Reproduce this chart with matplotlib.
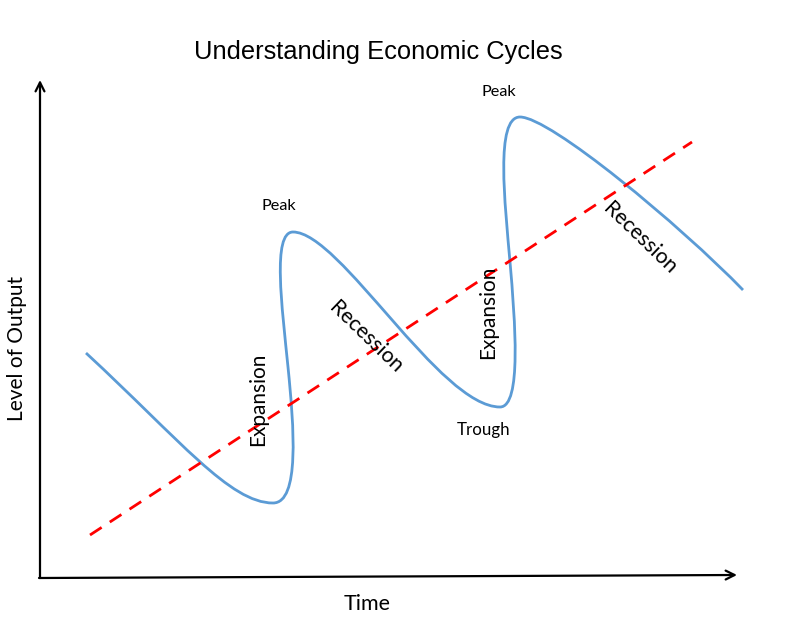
import matplotlib
matplotlib.use('Agg')
import matplotlib.pyplot as plt
from matplotlib.path import Path
from matplotlib.patches import PathPatch
import numpy as np

H = 621  # canvas height, output = H - pixel row

# business cycle path: anchor / control points (time, output) for cubic Bezier segments
cycle_time = [86, 180, 230, 273, 300, 294, 288, 282, 272, 293,
              340, 440, 500, 522, 515, 510, 505, 495, 520, 550, 680, 743]
cycle_output = [268, 181, 118, 118, 118, 194, 254, 314, 389, 389,
                389, 214, 214, 214, 301, 359, 417, 504, 504, 504, 396, 331]

# long-run trend line
trend_time = [90, 692]
trend_output = [86, 479]

# labels: (text, time, output, rotation, size)
labels = [
    ('Peak', 279, 415, 0, 11.7),
    ('Peak', 499, 529, 0, 11.7),
    ('Trough', 484, 191, 0, 12.2),
    ('Expansion', 258, 222, 90, 15),
    ('Expansion', 488, 309, 90, 15),
    ('Recession', 366, 284, -44, 15.3),
    ('Recession', 640, 383, -44, 15.3),
]

fig = plt.figure(figsize=(8, 6.21), dpi=100)
ax = fig.add_axes([0, 0, 1, 1])
ax.set_xlim(0, 800)
ax.set_ylim(0, H)
ax.axis('off')

verts = list(zip(cycle_time, cycle_output))
codes = [Path.MOVETO] + [Path.CURVE4] * (len(verts) - 1)
ax.add_patch(PathPatch(Path(verts, codes), facecolor='none',
                       edgecolor='#5B9BD5', lw=2.0, capstyle='butt'))

ax.plot(trend_time, trend_output, color='#FF0000', lw=2.0,
        dashes=(5, 3.5))

# axes with arrows
arrow = dict(arrowstyle='->', color='black', lw=1.6, mutation_scale=16,
             shrinkA=0, shrinkB=0)
ax.annotate('', xy=(40, H - 80), xytext=(40, H - 578), arrowprops=arrow)
ax.annotate('', xy=(737, H - 575), xytext=(39, H - 578), arrowprops=arrow)

ax.text(378, H - 52, 'Understanding Economic Cycles', ha='center', va='center',
        fontsize=18.4, family='Liberation Sans')
ax.text(367, H - 604, 'Time', ha='center', va='center', fontsize=15.5,
        family='Lato')
ax.text(17, H - 348, 'Level of Output', ha='center', va='center', rotation=90,
        fontsize=15, family='Lato')

for txt, x, y, rot, sz in labels:
    ax.text(x, y, txt, ha='center', va='center', rotation=rot, fontsize=sz,
            family='Lato', rotation_mode='anchor')

fig.savefig('out.png', dpi=100)
